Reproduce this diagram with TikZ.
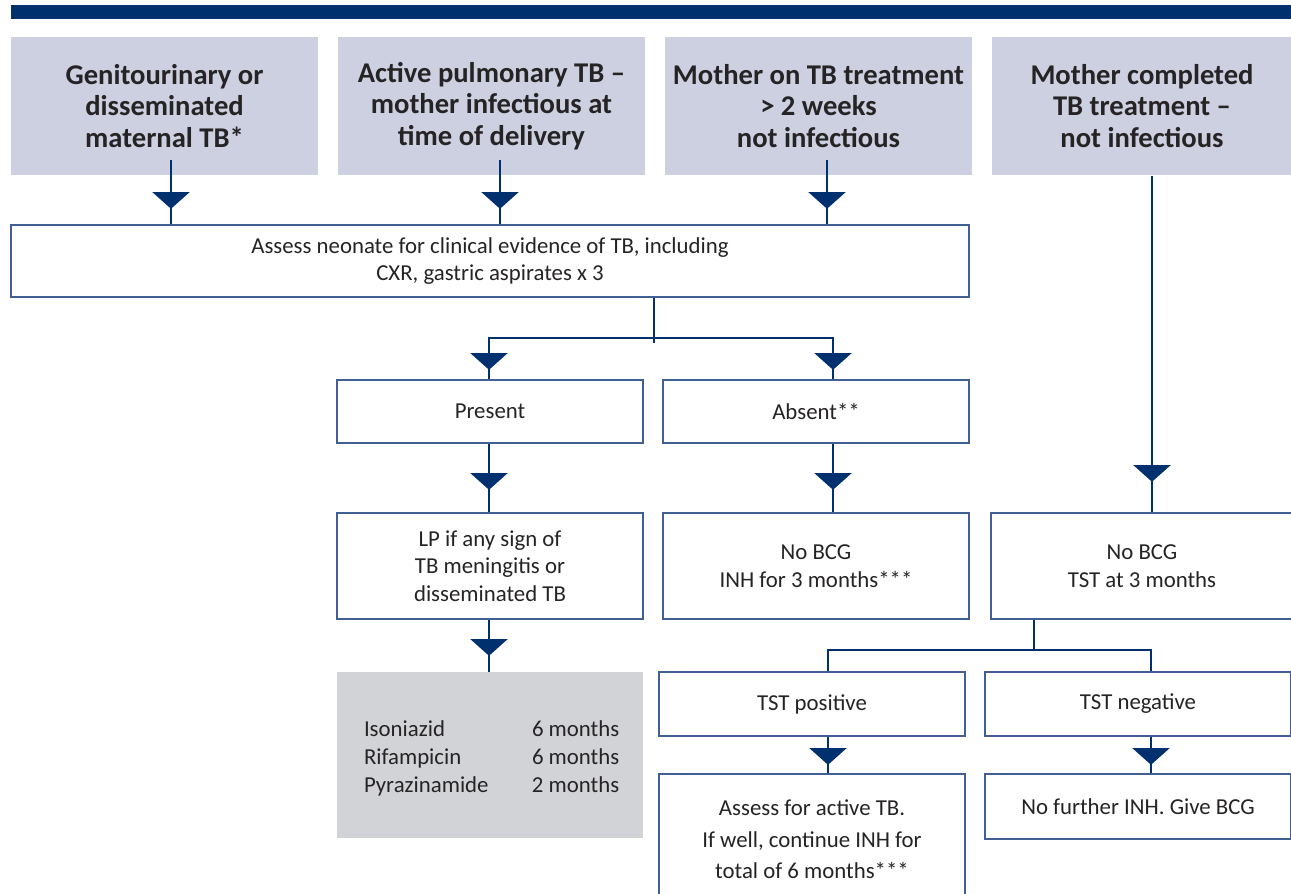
\documentclass[tikz,border=0pt]{standalone}
\usepackage{fontspec}
\setmainfont{Carlito}
\usetikzlibrary{calc}
\definecolor{navy}{HTML}{00306E}
\definecolor{hdr}{HTML}{CDD0E1}
\definecolor{edgec}{HTML}{3F5F95}
\definecolor{gbox}{HTML}{D1D3D6}
\definecolor{txt}{HTML}{262324}
\begin{document}
\begin{tikzpicture}[x=1pt,y=-1pt,
  hdrbox/.style={fill=hdr, draw=none, inner sep=0pt, align=center,
    text=txt, font=\fontsize{28.6}{31.5}\selectfont\bfseries},
  wbox/.style={fill=white, draw=edgec, line width=1.3pt, inner sep=0pt, align=center,
    text=txt, font=\fontsize{22.8}{27.5}\selectfont},
  conn/.style={draw=navy, line width=2.6pt},
  tri/.pic={\fill[navy] (-18.8,0) -- (18.8,0) -- (0,16.8) -- cycle;}
]
\useasboundingbox (0,0) rectangle (1291,894);
% top bar
\fill[navy] (11,5) rectangle (1291,19);

% header boxes
\node[hdrbox, minimum width=307pt, minimum height=138pt] (h1) at (164.5,106) {Genitourinary or\\disseminated\\maternal TB*};
\node[hdrbox, minimum width=307pt, minimum height=138pt] (h2) at (491.5,106) {Active pulmonary TB --\\mother infectious at\\time of delivery};
\node[hdrbox, minimum width=307pt, minimum height=138pt] (h3) at (818.5,106) {Mother on TB treatment\\{>} 2 weeks\\not infectious};
\node[hdrbox, minimum width=300pt, minimum height=138pt] (h4) at (1142,106) {Mother completed\\TB treatment --\\not infectious};

% assess box
\node[wbox, minimum width=958pt, minimum height=72pt] (assess) at (490,261) {Assess neonate for clinical evidence of TB, including\\CXR, gastric aspirates x 3};

% present / absent
\node[wbox, minimum width=306pt, minimum height=63pt] (present) at (490,411.5) {Present};
\node[wbox, minimum width=306pt, minimum height=63pt] (absent) at (816,411.5) {Absent**};

% LP / No BCG / No BCG TST
\node[wbox, minimum width=306pt, minimum height=106pt] (lp) at (490,566) {LP if any sign of\\TB meningitis or\\disseminated TB};
\node[wbox, minimum width=306pt, minimum height=106pt] (nobcg) at (816,566) {No BCG\\INH for 3 months***};
\node[wbox, minimum width=302pt, minimum height=106pt] (tst) at (1142,566) {No BCG\\TST at 3 months};

% gray regimen box
\node[fill=gbox, draw=none, minimum width=306pt, minimum height=166pt, inner sep=0pt] (regimen) at (490,755) {};
\node[anchor=west, inner sep=0pt, align=left, text=txt, font=\fontsize{22.8}{28}\selectfont] (regtext) at ($(regimen.west)+(27,3)$)
  {\makebox[168pt][l]{Isoniazid}6 months\\\makebox[168pt][l]{Rifampicin}6 months\\\makebox[168pt][l]{Pyrazinamide}2 months};

% TST positive / negative
\node[wbox, minimum width=306pt, minimum height=64pt] (pos) at (812,704) {TST positive};
\node[wbox, minimum width=306pt, minimum height=64pt] (neg) at (1138,704) {TST negative};

% final boxes
\node[wbox, minimum width=306pt, minimum height=130pt] (active) at (812,839) {};
\node[text=txt, font=\fontsize{22.8}{31.5}\selectfont, align=center, inner sep=0pt] (activetxt) at (812,839.5) {Assess for active TB.\\If well, continue INH for\\total of 6 months***};
\node[wbox, minimum width=306pt, minimum height=65pt] (further) at (1138,806.5) {No further INH. Give BCG};

% connectors from headers
\coordinate (s1) at (171,160);
\coordinate (s2) at (500,160);
\coordinate (s3) at (827,160);
\coordinate (s4) at (1152,176);
\draw[conn] (s1) -- (s1 |- assess.north);
\draw[conn] (s2) -- (s2 |- assess.north);
\draw[conn] (s3) -- (s3 |- assess.north);
\pic at (171,192) {tri};
\pic at (500,192) {tri};
\pic at (827,192) {tri};

% assess split
\coordinate (sp) at (654,338);
\coordinate (ca) at (833,338);
\coordinate (cp) at (489,338);
\draw[conn] (assess.south -| sp) -- (654,343);
\draw[conn] (cp |- present.north) -- (cp) -- (ca) -- (ca |- absent.north);
\pic at (489,353) {tri};
\pic at (833,353) {tri};

% present -> lp, absent -> nobcg
\draw[conn] (cp |- present.south) -- (cp |- lp.north);
\draw[conn] (ca |- absent.south) -- (ca |- nobcg.north);
\pic at (489,473) {tri};
\pic at (833,473) {tri};

% h4 -> tst
\draw[conn] (s4) -- (s4 |- tst.north);
\pic at (1152,465) {tri};

% lp -> regimen
\draw[conn] (cp |- lp.south) -- (cp |- regimen.north);
\pic at (489,639) {tri};

% tst split
\coordinate (sp2) at (1034,650);
\coordinate (cq) at (828,650);
\coordinate (cn) at (1151,650);
\draw[conn] (tst.south -| sp2) -- (sp2);
\draw[conn] (cq |- pos.north) -- (cq) -- (cn) -- (cn |- neg.north);

% tst pos/neg -> final
\draw[conn] (cq |- pos.south) -- (cq |- active.north);
\draw[conn] (cn |- neg.south) -- (cn |- further.north);
\pic at (828,748) {tri};
\pic at (1151,748) {tri};
\end{tikzpicture}
\end{document}
